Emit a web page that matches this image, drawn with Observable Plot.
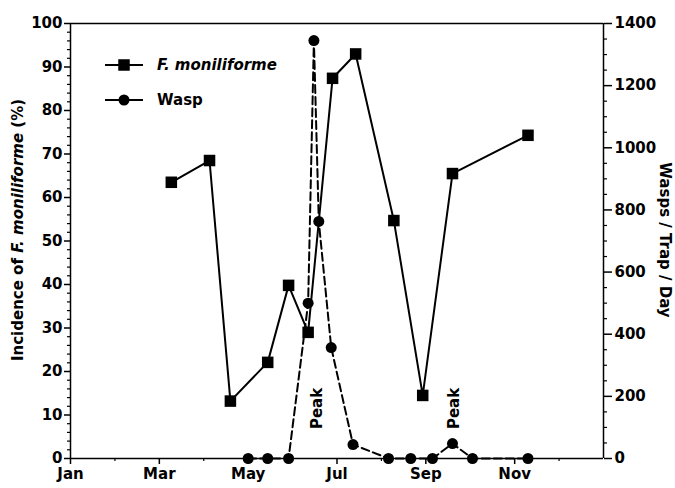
<!DOCTYPE html>
<html>
<head>
<meta charset="utf-8">
<script src="https://cdn.jsdelivr.net/npm/d3@7"></script>
<script src="https://cdn.jsdelivr.net/npm/@observablehq/plot@0.6"></script>
<style>
  html, body { margin: 0; padding: 0; background: #fff; }
</style>
</head>
<body>
<div id="chart"></div>
<script>
// ---- data (x = month position, 0 = Jan 1, 12 = end of Dec) ----
const fusMonth = [2.27, 3.13, 3.6, 4.44, 4.91, 5.35, 5.9, 6.42, 7.28, 7.93, 8.6, 10.3];
const fusIncidence = [63.5, 68.5, 13.2, 22.1, 39.8, 29, 87.4, 93, 54.7, 14.5, 65.5, 74.3];

const waspMonth = [4.0, 4.44, 4.91, 5.35, 5.48, 5.59, 5.87, 6.36, 7.16, 7.66, 8.15, 8.6, 9.05, 10.3];
const waspCount = [0, 0, 0, 500, 1345, 763, 357, 45, 0, 0, 0, 48, 0, 0];

const peakMonth = [5.56, 8.63];
const peakText = ["Peak", "Peak"];

const monthTicks = [0, 2, 4, 6, 8, 10];
const monthLabels = ["Jan", "Mar", "May", "Jul", "Sep", "Nov"];
const monthMinor = [1, 3, 5, 7, 9, 11];

const leftTicks = [0, 10, 20, 30, 40, 50, 60, 70, 80, 90, 100];
const rightTicks = [0, 200, 400, 600, 800, 1000, 1200, 1400];

const RATIO = 14; // 1400 wasps = 100 %

const fus = fusMonth.map((m, i) => ({month: m, value: fusIncidence[i]}));
const wasp = waspMonth.map((m, i) => ({month: m, value: waspCount[i] / RATIO}));
const peaks = peakMonth.map((m, i) => ({month: m, label: peakText[i]}));

const leftMinor = d3.range(0, 100.01, 2).filter(v => v % 10 !== 0);
const rightMinor = d3.range(0, 1400.01, 50).filter(v => v % 200 !== 0).map(v => v / RATIO);

const FONT = "DejaVu Sans";

const chart = Plot.plot({
  width: 675,
  height: 488,
  marginLeft: 70,
  marginRight: 72,
  marginTop: 23,
  marginBottom: 30,
  x: {domain: [0, 12]},
  y: {domain: [0, 100]},
  style: {fontFamily: FONT, fontSize: "15px", fontWeight: "bold", background: "white", color: "black", overflow: "visible"},
  marks: [
    Plot.axisY({ticks: leftTicks, tickSize: 6, tickPadding: 2, label: null, strokeWidth: 1.5, fontWeight: "bold", fontSize: 15}),
    Plot.axisY({ticks: leftMinor, tickSize: 3, tickFormat: () => "", label: null, strokeWidth: 1.2}),
    Plot.axisY({anchor: "right", ticks: rightTicks.map(v => v / RATIO), tickFormat: d => String(Math.round(d * RATIO)), tickSize: 8, tickPadding: 3, label: null, strokeWidth: 1.5, fontWeight: "bold", fontSize: 15}),
    Plot.axisY({anchor: "right", ticks: rightMinor, tickSize: 3, tickFormat: () => "", label: null, strokeWidth: 1.2}),
    Plot.axisX({ticks: monthTicks, tickFormat: d => monthLabels[monthTicks.indexOf(d)], tickSize: 6, tickPadding: 4, label: null, strokeWidth: 1.5, fontWeight: "bold", fontSize: 15}),
    Plot.axisX({ticks: monthMinor, tickSize: 3, tickFormat: () => "", label: null, strokeWidth: 1.2}),
    Plot.ruleX([0, 12], {strokeWidth: 1.5}),
    Plot.ruleY([0, 100], {strokeWidth: 1.5}),
    Plot.line(wasp, {x: "month", y: "value", stroke: "black", strokeWidth: 2, strokeDasharray: "8,4"}),
    Plot.dot(wasp, {x: "month", y: "value", r: 5.5, fill: "black", stroke: "none"}),
    Plot.line(fus, {x: "month", y: "value", stroke: "black", strokeWidth: 2}),
    Plot.dot(fus, {x: "month", y: "value", symbol: "square", r: 6.5, fill: "black", stroke: "none"}),
    Plot.text(peaks, {x: "month", y: 11.5, text: "label", rotate: -90, fontSize: 15, fontWeight: "bold", fill: "black"})
  ]
});

document.getElementById("chart").appendChild(chart);

// ---- axis titles and legend (mixed styles) ----
const svg = d3.select(chart);
svg.selectAll("text").style("font-weight", "bold").style("font-family", FONT);

const lt = svg.append("text")
  .attr("transform", "translate(18,230) rotate(-90)")
  .attr("text-anchor", "middle")
  .attr("dy", "0.35em")
  .style("font-family", FONT).style("font-size", "15px").style("font-weight", "bold");
lt.append("tspan").text("Incidence of ");
lt.append("tspan").style("font-style", "italic").text("F. moniliforme");
lt.append("tspan").text(" (%)");

svg.append("text")
  .attr("transform", "translate(665,240) rotate(90)")
  .attr("text-anchor", "middle")
  .attr("dy", "0.35em")
  .style("font-family", FONT).style("font-size", "15px").style("font-weight", "bold")
  .text("Wasps / Trap / Day");

const legend = [
  {label: "F. moniliforme", italic: true, symbol: "square", y: 65},
  {label: "Wasp", italic: false, symbol: "circle", y: 100}
];
const lg = svg.append("g");
legend.forEach(item => {
  lg.append("line").attr("x1", 105).attr("x2", 143).attr("y1", item.y).attr("y2", item.y)
    .attr("stroke", "black").attr("stroke-width", 2);
  if (item.symbol === "square") {
    lg.append("rect").attr("x", 124 - 5.75).attr("y", item.y - 5.75).attr("width", 11.5).attr("height", 11.5).attr("fill", "black");
  } else {
    lg.append("circle").attr("cx", 124).attr("cy", item.y).attr("r", 5.5).attr("fill", "black");
  }
  lg.append("text").attr("x", 157).attr("y", item.y).attr("dy", "0.35em")
    .attr("text-anchor", "start")
    .style("font-family", FONT).style("font-size", "15px").style("font-weight", "bold")
    .style("font-style", item.italic ? "italic" : "normal")
    .text(item.label);
});
</script>
</body>
</html>
